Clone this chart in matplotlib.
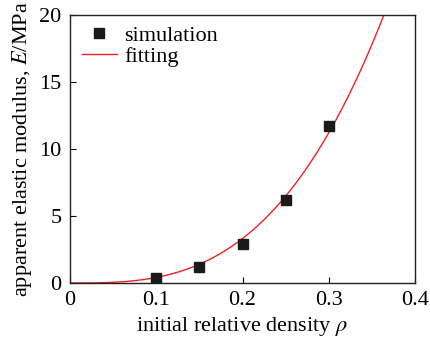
import numpy as np
import matplotlib
matplotlib.use("Agg")
import matplotlib.pyplot as plt

plt.rcParams['font.family'] = ['Liberation Serif', 'DejaVu Serif']
plt.rcParams['mathtext.fontset'] = 'stix'

rho_sim = [0.1, 0.15, 0.2, 0.25, 0.3]
E_sim = [0.37, 1.2, 2.9, 6.2, 11.7]
fit_coef = 415.0
fit_exp = 3.0

fig = plt.figure(figsize=(4.31, 3.40), dpi=100)
ax = fig.add_axes([70/431, 1 - 283/340, 345/431, 268/340])

rho_fit = np.linspace(0, 0.4, 400)
E_fit = fit_coef * rho_fit ** fit_exp
ax.plot(rho_sim, E_sim, 's', color='#1a1a1a', markersize=7, label='simulation', zorder=3)
ax.plot(rho_fit, E_fit, '-', color='#ee2222', lw=1.0, label='fitting')

ax.set_xlim(0, 0.4)
ax.set_ylim(0, 20)
ax.set_xticks([0, 0.1, 0.2, 0.3, 0.4])
ax.set_xticklabels(['0', '0.1', '0.2', '0.3', '0.4'])
ax.set_yticks([0, 5, 10, 15, 20])
ax.tick_params(direction='in', labelsize=16, length=4, top=False, right=False, pad=6)
for s in ax.spines.values():
    s.set_linewidth(1.0)
    s.set_color('#222222')

ax.set_xlabel(r'initial relative density $\it{\rho}$', fontsize=16, labelpad=3)
ax.set_ylabel(r'apparent elastic modulus, $\it{E}$/MPa', fontsize=16, labelpad=4)

leg = ax.legend(loc='upper left', frameon=False, fontsize=16, handlelength=1.6,
                handletextpad=0.3, labelspacing=0.0, borderaxespad=0.2,
                bbox_to_anchor=(-0.005, 1.01))

fig.savefig('out.png', dpi=100)
